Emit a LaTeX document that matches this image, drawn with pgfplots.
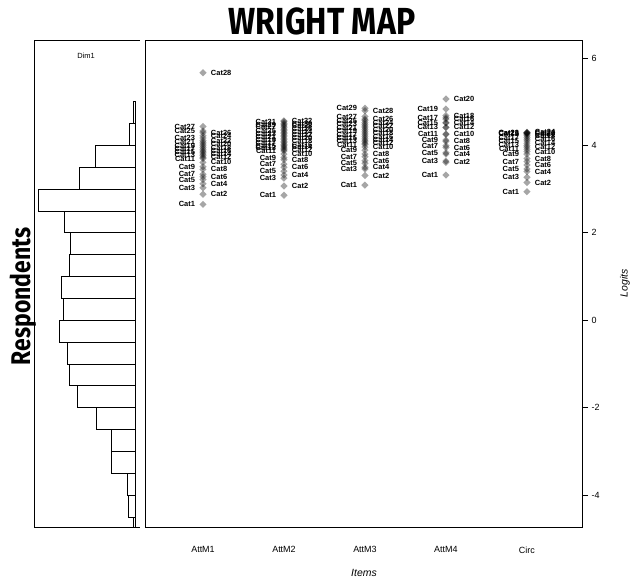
\documentclass[border=0pt]{standalone}
\usepackage{pgfplots}
\pgfplotsset{compat=1.18}
\usepackage{fontspec}
\setmainfont{Liberation Sans}
\newfontfamily\titlefont{Fira Sans}[FakeStretch=0.85]
\newcommand\labfont{\fontsize{7.5}{8}\selectfont\bfseries}
\pgfplotsset{
 thr/.style={only marks, black, mark=square*, mark size=2.55bp,
   mark options={rotate=45, draw opacity=0, fill=black, fill opacity=0.35, line width=0pt},
   point meta=explicit symbolic, nodes near coords,
   every node near coord/.append style={font=\labfont, inner sep=0pt, text=black,
     opacity=1, text opacity=1, fill opacity=1}},
 thrL/.style={thr, every node near coord/.append style={anchor=east, xshift=-8bp}},
 thrR/.style={thr, every node near coord/.append style={anchor=west, xshift=8bp}},
}
\begin{document}
\begin{tikzpicture}[x=1bp,y=1bp]
\useasboundingbox (0,0) rectangle (630,583);
% left panel: respondents histogram
\begin{axis}[at={(34bp,56bp)}, anchor=south west, scale only axis,
  width=106bp, height=487bp,
  xmin=-101, xmax=5, ymin=-4.73, ymax=6.41,
  ticks=none, axis x line*=box, axis y line*=left,
  axis line style={line width=0.8bp}]
\addplot[xbar interval, draw=black, fill=white, line width=0.7bp] coordinates {
 (-1.7,-5.0) (-6.7,-4.5) (-7.3,-4.0) (-23.7,-3.5) (-23.7,-3.0) (-38.3,-2.5)
 (-57.7,-2.0) (-65.7,-1.5) (-67.7,-1.0) (-75.7,-0.5) (-71.7,0.0) (-73.3,0.5)
 (-65.7,1.0) (-64.7,1.5) (-70.7,2.0) (-96.7,2.5) (-56,3.0) (-39.3,3.5)
 (-5.7,4.0) (-1.2,4.5) (0,5.0)};
\end{axis}
% main panel: item thresholds
\begin{axis}[at={(145bp,56bp)}, anchor=south west, scale only axis,
  width=437bp, height=487bp,
  xmin=0.284, xmax=5.68, ymin=-4.73, ymax=6.41,
  xtick={1,2,3,4,5}, xticklabels={AttM1,AttM2,AttM3,AttM4,Circ},
  xtick style={draw=none},
  ytick={-4,-2,0,2,4,6}, ytick pos=right, yticklabel pos=right,
  tick align=outside, major tick length=6bp,
  /pgf/number format/assume math mode=true,
  tick label style={font=\fontsize{9}{10}\selectfont},
  xticklabel style={yshift=-10bp},
  axis line style={line width=0.8bp}, tick style={line width=0.8bp, black}]
% AttM1
\addplot[thrL] coordinates {(1,2.65)[Cat1] (1,3.03)[Cat3] (1,3.22)[Cat5] (1,3.34)[Cat7]
 (1,3.51)[Cat9] (1,3.70)[Cat11] (1,3.77)[Cat13] (1,3.84)[Cat15] (1,3.91)[Cat17]
 (1,3.99)[Cat19] (1,4.07)[Cat21] (1,4.17)[Cat23] (1,4.33)[Cat25] (1,4.43)[Cat27]};
\addplot[thrR] coordinates {(1,2.88)[Cat2] (1,3.12)[Cat4] (1,3.28)[Cat6] (1,3.45)[Cat8]
 (1,3.61)[Cat10] (1,3.73)[Cat12] (1,3.80)[Cat14] (1,3.87)[Cat16] (1,3.95)[Cat18]
 (1,4.03)[Cat20] (1,4.11)[Cat22] (1,4.22)[Cat24] (1,4.29)[Cat26] (1,5.66)[Cat28]};
% AttM2
\addplot[thrL] coordinates {(2,2.86)[Cat1] (2,3.25)[Cat3] (2,3.41)[Cat5] (2,3.57)[Cat7]
 (2,3.72)[Cat9] (2,3.87)[Cat11] (2,3.93)[Cat13] (2,3.99)[Cat15] (2,4.06)[Cat17]
 (2,4.13)[Cat19] (2,4.20)[Cat21] (2,4.27)[Cat23] (2,4.34)[Cat25] (2,4.41)[Cat27]
 (2,4.47)[Cat29] (2,4.54)[Cat31]};
\addplot[thrR] coordinates {(2,3.07)[Cat2] (2,3.32)[Cat4] (2,3.50)[Cat6] (2,3.67)[Cat8]
 (2,3.80)[Cat10] (2,3.90)[Cat12] (2,3.96)[Cat14] (2,4.02)[Cat16] (2,4.09)[Cat18]
 (2,4.16)[Cat20] (2,4.23)[Cat22] (2,4.30)[Cat24] (2,4.37)[Cat26] (2,4.44)[Cat28]
 (2,4.50)[Cat30] (2,4.56)[Cat32]};
% AttM3
\addplot[thrL] coordinates {(3,3.09)[Cat1] (3,3.46)[Cat3] (3,3.59)[Cat5] (3,3.74)[Cat7]
 (3,3.89)[Cat9] (3,4.02)[Cat11] (3,4.09)[Cat13] (3,4.16)[Cat15] (3,4.24)[Cat17]
 (3,4.32)[Cat19] (3,4.40)[Cat21] (3,4.48)[Cat23] (3,4.57)[Cat25] (3,4.66)[Cat27]
 (3,4.85)[Cat29]};
\addplot[thrR] coordinates {(3,3.31)[Cat2] (3,3.50)[Cat4] (3,3.65)[Cat6] (3,3.80)[Cat8]
 (3,3.96)[Cat10] (3,4.05)[Cat12] (3,4.12)[Cat14] (3,4.20)[Cat16] (3,4.28)[Cat18]
 (3,4.36)[Cat20] (3,4.44)[Cat22] (3,4.52)[Cat24] (3,4.60)[Cat26] (3,4.79)[Cat28]};
% AttM4
\addplot[thrL] coordinates {(4,3.32)[Cat1] (4,3.64)[Cat3] (4,3.83)[Cat5] (4,3.99)[Cat7]
 (4,4.12)[Cat9] (4,4.25)[Cat11] (4,4.41)[Cat13] (4,4.52)[Cat15] (4,4.63)[Cat17]
 (4,4.83)[Cat19]};
\addplot[thrR] coordinates {(4,3.61)[Cat2] (4,3.80)[Cat4] (4,3.95)[Cat6] (4,4.09)[Cat8]
 (4,4.26)[Cat10] (4,4.41)[Cat12] (4,4.51)[Cat14] (4,4.60)[Cat16] (4,4.68)[Cat18]
 (4,5.06)[Cat20]};
% Circ
\addplot[thrL] coordinates {(5,2.94)[Cat1] (5,3.27)[Cat3] (5,3.46)[Cat5] (5,3.63)[Cat7]
 (5,3.80)[Cat9] (5,3.91)[Cat11] (5,4.00)[Cat13] (5,4.10)[Cat15] (5,4.18)[Cat17]
 (5,4.25)[Cat19] (5,4.28)[Cat21] (5,4.29)[Cat23]};
\addplot[thrR] coordinates {(5,3.15)[Cat2] (5,3.40)[Cat4] (5,3.55)[Cat6] (5,3.70)[Cat8]
 (5,3.86)[Cat10] (5,3.96)[Cat12] (5,4.05)[Cat14] (5,4.14)[Cat16] (5,4.22)[Cat18]
 (5,4.27)[Cat20] (5,4.29)[Cat22] (5,4.30)[Cat24]};
\end{axis}
\node[font=\titlefont\bfseries\fontsize{37.7bp}{40bp}\selectfont] at (322bp,562bp) {WRIGHT MAP};
\node[rotate=90, font=\titlefont\bfseries\fontsize{27bp}{30bp}\selectfont] at (23.5bp,286.5bp) {Respondents};
\node[font=\fontsize{7.5}{9}\selectfont] at (86bp,527bp) {Dim1};
\node[rotate=90, font=\itshape\fontsize{10.5}{12}\selectfont] at (625bp,299.5bp) {Logits};
\node[font=\itshape\fontsize{10.5}{12}\selectfont] at (364bp,10bp) {Items};
\end{tikzpicture}
\end{document}
